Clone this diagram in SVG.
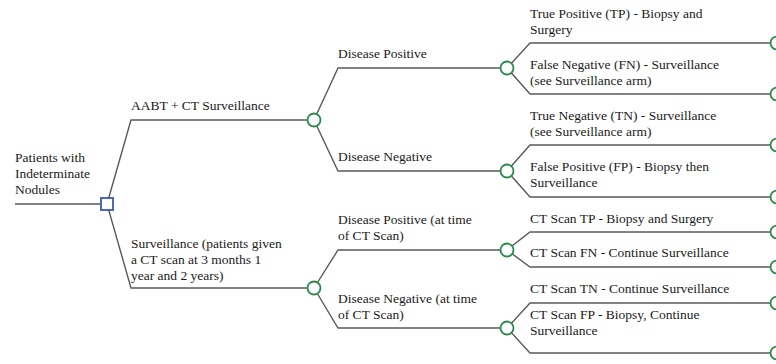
<svg xmlns="http://www.w3.org/2000/svg" width="776" height="364" viewBox="0 0 776 364">
<style>
text{font-size:13.5px;fill:#1a1a1a}
.e{fill:none;stroke:#5a5a5a;stroke-width:1.4}
.c{fill:#fff;stroke:#2a8a4a;stroke-width:1.8}
.d{fill:#fff;stroke:#3a5bb0;stroke-width:1.8}
</style>
<rect width="776" height="364" fill="#fff"/>
<g id="connectors">
<path class="e" d="M15 204H107"/>
<path class="e" d="M107 204L131 120H314"/>
<path class="e" d="M107 204L131 288H314"/>
<path class="e" d="M314 120L338 68H507"/>
<path class="e" d="M314 120L338 171H507"/>
<path class="e" d="M314 288L338 250H507"/>
<path class="e" d="M314 288L338 328H507"/>
<path class="e" d="M507 68L530 43H777"/>
<path class="e" d="M507 68L530 94H777"/>
<path class="e" d="M507 171L530 145H777"/>
<path class="e" d="M507 171L530 197H777"/>
<path class="e" d="M507 250L530 232H777"/>
<path class="e" d="M507 250L530 267H777"/>
<path class="e" d="M507 328L530 303H777"/>
<path class="e" d="M507 328L530 353H777"/>
</g>
<g id="nodes" font-family="'Liberation Serif', 'DejaVu Serif', serif">
<g id="root">
<rect class="d" x="101" y="198" width="12" height="12"/>
<text x="15" y="162">Patients with</text>
<text x="15" y="178">Indeterminate</text>
<text x="15" y="194">Nodules</text>
</g>
<g id="aabt">
<circle class="c" cx="314" cy="120" r="6.5"/>
<text x="131" y="110">AABT + CT Surveillance</text>
</g>
<g id="surveillance">
<circle class="c" cx="314" cy="288" r="6.5"/>
<text x="131" y="248">Surveillance (patients given</text>
<text x="131" y="264">a CT scan at 3 months 1</text>
<text x="131" y="280">year and 2 years)</text>
</g>
<g id="aabt-pos">
<circle class="c" cx="507" cy="68" r="6.5"/>
<text x="338" y="58">Disease Positive</text>
</g>
<g id="aabt-neg">
<circle class="c" cx="507" cy="171" r="6.5"/>
<text x="338" y="161">Disease Negative</text>
</g>
<g id="surv-pos">
<circle class="c" cx="507" cy="250" r="6.5"/>
<text x="338" y="224">Disease Positive (at time</text>
<text x="338" y="240">of CT Scan)</text>
</g>
<g id="surv-neg">
<circle class="c" cx="507" cy="328" r="6.5"/>
<text x="338" y="303">Disease Negative (at time</text>
<text x="338" y="319">of CT Scan)</text>
</g>
<g id="tp">
<circle class="c" cx="777" cy="43" r="6.5"/>
<text x="530" y="18">True Positive (TP) - Biopsy and</text>
<text x="530" y="34">Surgery</text>
</g>
<g id="fn">
<circle class="c" cx="777" cy="94" r="6.5"/>
<text x="530" y="69">False Negative (FN) - Surveillance</text>
<text x="530" y="85">(see Surveillance arm)</text>
</g>
<g id="tn">
<circle class="c" cx="777" cy="145" r="6.5"/>
<text x="530" y="120">True Negative (TN) - Surveillance</text>
<text x="530" y="136">(see Surveillance arm)</text>
</g>
<g id="fp">
<circle class="c" cx="777" cy="197" r="6.5"/>
<text x="530" y="171">False Positive (FP) - Biopsy then</text>
<text x="530" y="187">Surveillance</text>
</g>
<g id="ct-tp">
<circle class="c" cx="777" cy="232" r="6.5"/>
<text x="530" y="223">CT Scan TP - Biopsy and Surgery</text>
</g>
<g id="ct-fn">
<circle class="c" cx="777" cy="267" r="6.5"/>
<text x="530" y="257">CT Scan FN - Continue Surveillance</text>
</g>
<g id="ct-tn">
<circle class="c" cx="777" cy="303" r="6.5"/>
<text x="530" y="293">CT Scan TN - Continue Surveillance</text>
</g>
<g id="ct-fp">
<circle class="c" cx="777" cy="353" r="6.5"/>
<text x="530" y="319">CT Scan FP - Biopsy, Continue</text>
<text x="530" y="335">Surveillance</text>
</g>
</g>
</svg>
